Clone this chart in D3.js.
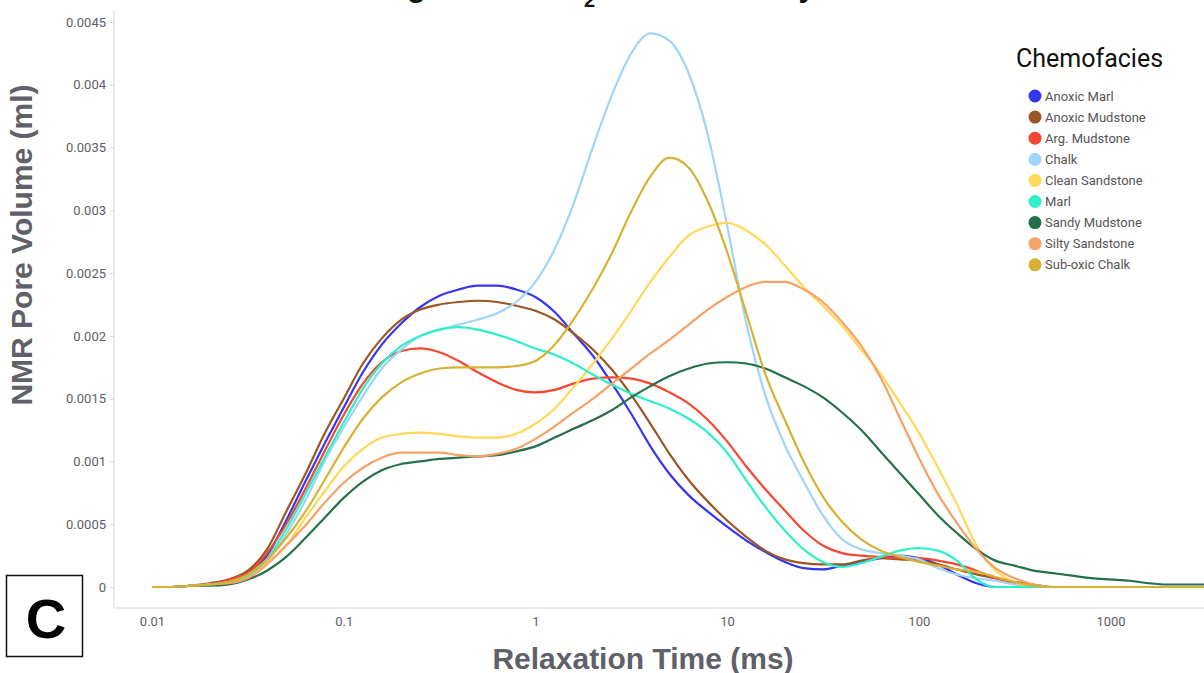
<!DOCTYPE html>
<html>
<head>
<meta charset="utf-8">
<script src="https://cdn.jsdelivr.net/npm/d3@7"></script>
<style>
  body { margin: 0; background: #fff; }
  svg { display: block; }
</style>
</head>
<body>
<script>
// relaxation times (ms), 0.1 decade steps
var relaxTimes = [0.01, 0.0126, 0.0158, 0.02, 0.0251, 0.0316, 0.0398, 0.0501, 0.0631, 0.0794,
  0.1, 0.126, 0.158, 0.2, 0.251, 0.316, 0.398, 0.501, 0.631, 0.794,
  1, 1.26, 1.58, 2, 2.51, 3.16, 3.98, 5.01, 6.31, 7.94,
  10, 12.6, 15.8, 20, 25.1, 31.6, 39.8, 50.1, 63.1, 79.4,
  100, 126, 158, 200, 251, 316, 398, 501, 631, 794,
  1000, 1260, 1580, 2000, 2510, 3160];

var chemofacies = ["Anoxic Marl", "Anoxic Mudstone", "Arg. Mudstone", "Chalk", "Clean Sandstone",
  "Marl", "Sandy Mudstone", "Silty Sandstone", "Sub-oxic Chalk"];
var colors = ["#3636f0", "#9c5523", "#f5472f", "#a0d4f8", "#ffd956", "#2ef0c8", "#24704a", "#f6a165", "#d6b133"];

var anoxicMarl = [0, 0, 0.00001, 0.00002, 0.00005, 0.00012, 0.00025, 0.00053, 0.00084, 0.00114,
  0.00143, 0.00171, 0.00193, 0.00210, 0.00223, 0.00232, 0.00237, 0.00240, 0.00240, 0.00237,
  0.00231, 0.00219, 0.00202, 0.00184, 0.00162, 0.00138, 0.00112, 0.00090, 0.00073, 0.00060,
  0.00048, 0.00037, 0.00028, 0.00020, 0.00015, 0.00014, 0.00017, 0.00020, 0.00023, 0.00025,
  0.00023, 0.00018, 0.00010, 0.00003, 0, 0, 0, 0, 0, 0,
  0, 0, 0, 0, 0, 0];
var anoxicMudstone = [0, 0, 0.00001, 0.00003, 0.00006, 0.00013, 0.00030, 0.00060, 0.00090, 0.00122,
  0.00150, 0.00178, 0.00198, 0.00213, 0.00221, 0.00225, 0.00227, 0.00228, 0.00227, 0.00224,
  0.00220, 0.00213, 0.00202, 0.00189, 0.00173, 0.00153, 0.00130, 0.00106, 0.00085, 0.00068,
  0.00053, 0.00040, 0.00029, 0.00022, 0.00019, 0.00018, 0.00018, 0.00021, 0.00023, 0.00022,
  0.00021, 0.00018, 0.00014, 0.00010, 0.00007, 0.00004, 0.00002, 0, 0, 0,
  0, 0, 0, 0, 0, 0];
var argMudstone = [0, 0, 0.00001, 0.00002, 0.00006, 0.00011, 0.00027, 0.00050, 0.00078, 0.00108,
  0.00137, 0.00162, 0.00179, 0.00188, 0.00190, 0.00187, 0.00180, 0.00171, 0.00163, 0.00157,
  0.00155, 0.00157, 0.00162, 0.00166, 0.00167, 0.00166, 0.00162, 0.00155, 0.00146, 0.00133,
  0.00116, 0.00096, 0.00078, 0.00061, 0.00045, 0.00033, 0.00027, 0.00025, 0.00024, 0.00023,
  0.00023, 0.00021, 0.00018, 0.00013, 0.00007, 0.00003, 0, 0, 0, 0,
  0, 0, 0, 0, 0, 0];
var chalk = [0, 0, 0.00001, 0.00002, 0.00004, 0.00009, 0.00020, 0.00042, 0.00069, 0.00100,
  0.00127, 0.00152, 0.00174, 0.00189, 0.00200, 0.00205, 0.00209, 0.00213, 0.00218, 0.00227,
  0.00243, 0.00269, 0.00305, 0.00351, 0.00392, 0.00425, 0.00441, 0.00435, 0.00409, 0.00360,
  0.00288, 0.00210, 0.00153, 0.00113, 0.00084, 0.00057, 0.00038, 0.00030, 0.00027, 0.00025,
  0.00022, 0.00015, 0.00010, 0.00007, 0.00005, 0.00002, 0, 0, 0, 0,
  0, 0, 0, 0, 0, 0];
var cleanSandstone = [0, 0, 0.00001, 0.00002, 0.00003, 0.00008, 0.00019, 0.00033, 0.00055, 0.00076,
  0.00096, 0.00110, 0.00119, 0.00122, 0.00123, 0.00122, 0.00120, 0.00119, 0.00119, 0.00122,
  0.00130, 0.00142, 0.00159, 0.00178, 0.00198, 0.00220, 0.00243, 0.00263, 0.00280, 0.00287,
  0.00290, 0.00284, 0.00273, 0.00256, 0.00239, 0.00224, 0.00208, 0.00189, 0.00170, 0.00147,
  0.00123, 0.00095, 0.00066, 0.00033, 0.00013, 0.00004, 0, 0, 0, 0,
  0, 0, 0, 0, 0, 0];
var marl = [0, 0, 0.00001, 0.00002, 0.00004, 0.00009, 0.00022, 0.00046, 0.00074, 0.00103,
  0.00131, 0.00158, 0.00178, 0.00192, 0.00200, 0.00205, 0.00207, 0.00205, 0.00201, 0.00196,
  0.00190, 0.00185, 0.00178, 0.00169, 0.00161, 0.00154, 0.00148, 0.00142, 0.00134, 0.00123,
  0.00107, 0.00085, 0.00064, 0.00045, 0.00030, 0.00020, 0.00016, 0.00019, 0.00024, 0.00029,
  0.00031, 0.00029, 0.00021, 0.00006, 0, 0, 0, 0, 0, 0,
  0, 0, 0, 0, 0, 0];
var sandyMudstone = [0, 0, 0.00001, 0.00001, 0.00002, 0.00006, 0.00013, 0.00024, 0.00039, 0.00055,
  0.00071, 0.00084, 0.00093, 0.00098, 0.00100, 0.00102, 0.00103, 0.00104, 0.00105, 0.00108,
  0.00112, 0.00119, 0.00126, 0.00133, 0.00141, 0.00151, 0.00160, 0.00168, 0.00174, 0.00178,
  0.00179, 0.00178, 0.00174, 0.00167, 0.00160, 0.00151, 0.00139, 0.00125, 0.00108, 0.00091,
  0.00074, 0.00057, 0.00043, 0.00030, 0.00021, 0.00017, 0.00013, 0.00011, 0.00009, 0.00007,
  0.00006, 0.00005, 0.00003, 0.00002, 0.00002, 0.00002];
var siltySandstone = [0, 0, 0.00001, 0.00002, 0.00003, 0.00007, 0.00018, 0.00033, 0.00049, 0.00067,
  0.00083, 0.00095, 0.00103, 0.00107, 0.00107, 0.00107, 0.00105, 0.00104, 0.00106, 0.00110,
  0.00118, 0.00128, 0.00139, 0.00150, 0.00162, 0.00174, 0.00186, 0.00197, 0.00209, 0.00221,
  0.00231, 0.00239, 0.00243, 0.00243, 0.00237, 0.00227, 0.00211, 0.00192, 0.00167, 0.00135,
  0.00103, 0.00074, 0.00051, 0.00030, 0.00015, 0.00007, 0.00002, 0, 0, 0,
  0, 0, 0, 0, 0, 0];
var subOxicChalk = [0, 0, 0.00001, 0.00002, 0.00004, 0.00010, 0.00022, 0.00039, 0.00060, 0.00085,
  0.00111, 0.00134, 0.00151, 0.00163, 0.00170, 0.00174, 0.00175, 0.00175, 0.00175, 0.00176,
  0.00180, 0.00193, 0.00213, 0.00238, 0.00266, 0.00299, 0.00327, 0.00342, 0.00334, 0.00307,
  0.00267, 0.00218, 0.00170, 0.00133, 0.00100, 0.00072, 0.00052, 0.00038, 0.00029, 0.00024,
  0.00020, 0.00017, 0.00014, 0.00012, 0.00008, 0.00004, 0.00001, 0, 0, 0,
  0, 0, 0, 0, 0, 0];

var seriesValues = [anoxicMarl, anoxicMudstone, argMudstone, chalk, cleanSandstone,
  marl, sandyMudstone, siltySandstone, subOxicChalk];

var xTicks = [0.01, 0.1, 1, 10, 100, 1000];
var xTickLabels = ["0.01", "0.1", "1", "10", "100", "1000"];
var yTicks = [0, 0.0005, 0.001, 0.0015, 0.002, 0.0025, 0.003, 0.0035, 0.004, 0.0045];
var yTickLabels = ["0", "0.0005", "0.001", "0.0015", "0.002", "0.0025", "0.003", "0.0035", "0.004", "0.0045"];

var w = 1204, h = 673;
var axisColor = "#d6d6e0";

var svg = d3.select("body").append("svg")
    .attr("width", w)
    .attr("height", h)
    .style("font-family", "Roboto, sans-serif");

var x = d3.scaleLog()
    .domain([0.01, 1000])
    .range([152, 1110.5]);

var y = d3.scaleLinear()
    .domain([0, 0.0045])
    .range([587, 22]);

// title sits above the frame, only its descenders show
var title = svg.append("text")
    .attr("x", 325)
    .attr("y", -3)
    .style("font-family", "'Liberation Sans', Arial, sans-serif")
    .style("font-weight", "bold")
    .style("font-size", "30px")
    .attr("fill", "#111");
title.append("tspan").text("Averaged");
title.append("tspan").attr("dx", 20).text(" NMR T");
title.append("tspan").attr("dy", 10).style("font-size", "20px").text("2");
title.append("tspan").attr("dy", -10).text(" Distribution by Chemofacies");

// axis lines
svg.append("line")
    .attr("x1", 114).attr("x2", 114)
    .attr("y1", 10).attr("y2", 608)
    .attr("stroke", axisColor);
svg.append("line")
    .attr("x1", 114).attr("x2", w)
    .attr("y1", 608).attr("y2", 608)
    .attr("stroke", axisColor);

var yAxis = svg.append("g")
    .attr("transform", "translate(114,0)")
    .call(d3.axisLeft(y)
        .tickValues(yTicks)
        .tickSize(4)
        .tickPadding(4)
        .tickFormat(function (d, i) { return yTickLabels[i]; }));
yAxis.select(".domain").remove();
yAxis.selectAll("line").attr("stroke", axisColor);
yAxis.selectAll("text")
    .attr("fill", "#5e5e66")
    .style("font-size", "13px")
    .style("font-family", "Roboto, sans-serif");

var xAxis = svg.append("g")
    .attr("transform", "translate(0,608)")
    .call(d3.axisBottom(x)
        .tickValues(xTicks)
        .tickSize(0)
        .tickPadding(9)
        .tickFormat(function (d, i) { return xTickLabels[i]; }));
xAxis.select(".domain").remove();
xAxis.selectAll("text")
    .attr("fill", "#5e5e66")
    .style("font-size", "13px")
    .style("font-family", "Roboto, sans-serif");

// axis titles
svg.append("text")
    .attr("x", 643)
    .attr("y", 669)
    .attr("text-anchor", "middle")
    .style("font-family", "'Liberation Sans', Arial, sans-serif")
    .style("font-weight", "bold")
    .style("font-size", "30px")
    .attr("fill", "#606068")
    .text("Relaxation Time (ms)");

svg.append("text")
    .attr("transform", "translate(32,245) rotate(-90)")
    .attr("text-anchor", "middle")
    .style("font-family", "'Liberation Sans', Arial, sans-serif")
    .style("font-weight", "bold")
    .style("font-size", "30px")
    .attr("fill", "#606068")
    .text("NMR Pore Volume (ml)");

// curves
var line = d3.line()
    .x(function (d, i) { return x(relaxTimes[i]); })
    .y(function (d) { return y(d); })
    .curve(d3.curveMonotoneX);

svg.append("g")
    .selectAll("path")
    .data(seriesValues)
    .enter()
    .append("path")
    .attr("d", line)
    .attr("fill", "none")
    .attr("stroke", function (d, i) { return colors[i]; })
    .attr("stroke-width", 2.2);

// legend
var legend = svg.append("g");
legend.append("text")
    .attr("x", 1016)
    .attr("y", 67)
    .style("font-size", "25px")
    .attr("fill", "#111")
    .text("Chemofacies");

var item = legend.selectAll(".item")
    .data(chemofacies)
    .enter()
    .append("g")
    .attr("transform", function (d, i) { return "translate(1035," + (96 + i * 21.1) + ")"; });
item.append("circle")
    .attr("r", 6.5)
    .attr("fill", function (d, i) { return colors[i]; });
item.append("text")
    .attr("x", 10)
    .attr("dy", "0.35em")
    .style("font-size", "13px")
    .attr("fill", "#555")
    .text(function (d) { return d; });

// panel letter
svg.append("rect")
    .attr("x", 6.5).attr("y", 575.5)
    .attr("width", 76).attr("height", 81)
    .attr("fill", "#fff")
    .attr("stroke", "#111")
    .attr("stroke-width", 1.5);
svg.append("text")
    .attr("x", 46)
    .attr("y", 638)
    .attr("text-anchor", "middle")
    .style("font-family", "'Liberation Sans', Arial, sans-serif")
    .style("font-weight", "bold")
    .style("font-size", "56px")
    .attr("fill", "#000")
    .text("C");
</script>
</body>
</html>
